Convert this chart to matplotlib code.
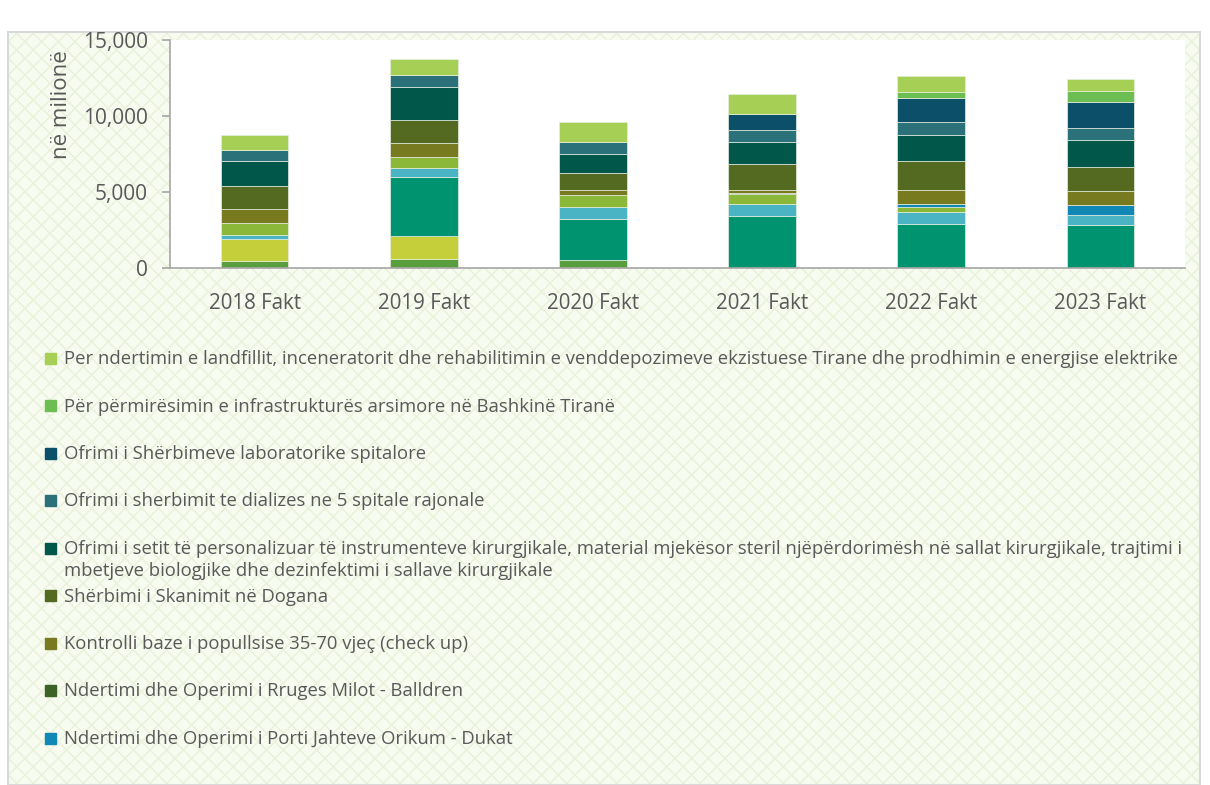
import matplotlib
matplotlib.use("Agg")
import matplotlib.pyplot as plt
from matplotlib.patches import Rectangle
from matplotlib.ticker import FuncFormatter
import numpy as np

plt.rcParams['font.family'] = ['Open Sans', 'DejaVu Sans']

# Te dhenat (ne milione), nga poshte lart ne stive
vitet = ['2018 Fakt', '2019 Fakt', '2020 Fakt', '2021 Fakt', '2022 Fakt', '2023 Fakt']

seria_1 = [480, 565, 500, 0, 0, 0]
seria_2 = [1430, 1511, 0, 0, 0, 0]
seria_3 = [0, 3942, 2693, 3390, 2865, 2799]
seria_4 = [285, 552, 834, 815, 788, 657]
seria_5 = [770, 762, 789, 657, 355, 0]
porti = [0, 0, 0, 0, 197, 703]
milot = [0, 0, 0, 45, 0, 0]
kontrolli = [940, 881, 309, 235, 939, 900]
skanimi = [1490, 1511, 1136, 1690, 1886, 1577]
seti = [1625, 2207, 1268, 1485, 1748, 1774]
dializa = [725, 789, 769, 768, 834, 827]
laboratori = [0, 0, 0, 1052, 1557, 1689]
arsimi = [0, 0, 0, 0, 414, 743]
landfilli = [1005, 1011, 1294, 1294, 1051, 748]

seri = [seria_1, seria_2, seria_3, seria_4, seria_5, porti, milot, kontrolli,
        skanimi, seti, dializa, laboratori, arsimi, landfilli]
ngjyrat = ['#589e3c', '#c4cf3a', '#00936f', '#4bb4c4', '#8cb83a', '#1187b5',
           '#3b6325', '#787a20', '#536a20', '#00574a', '#2a717a', '#0b5068',
           '#6cbd52', '#a6cf55']
emrat = ['', '', '', '', '',
         'Ndertimi dhe Operimi i Porti Jahteve Orikum - Dukat',
         'Ndertimi dhe Operimi i Rruges Milot - Balldren',
         'Kontrolli baze i popullsise 35-70 vjeç (check up)',
         'Shërbimi i Skanimit në Dogana',
         'Ofrimi i setit të personalizuar të instrumenteve kirurgjikale, material mjekësor steril njëpërdorimësh në sallat kirurgjikale, trajtimi i\nmbetjeve biologjike dhe dezinfektimi i sallave kirurgjikale',
         'Ofrimi i sherbimit te dializes ne 5 spitale rajonale',
         'Ofrimi i Shërbimeve laboratorike spitalore',
         'Për përmirësimin e infrastrukturës arsimore në Bashkinë Tiranë',
         'Per ndertimin e landfillit, inceneratorit dhe rehabilitimin e venddepozimeve ekzistuese Tirane dhe prodhimin e energjise elektrike']

gri = '#595959'

fig = plt.figure(figsize=(12.1, 7.85), dpi=100)

# sfondi me model
fig.patches.append(Rectangle((8/1210, 0), 1192/1210, 753/785, transform=fig.transFigure,
                             facecolor='#f7fbf0', edgecolor='#e8f1da', linewidth=0,
                             hatch='xx', zorder=-3))
fig.patches.append(Rectangle((8/1210, 0), 1192/1210, 753/785, transform=fig.transFigure,
                             fill=False, edgecolor='#d9d9d9', linewidth=1.5, zorder=-2))

ax = fig.add_axes([170/1210, 1 - 268/785, 1015/1210, 228/785])
ax.set_facecolor('white')

x = np.arange(len(vitet))
poshte = np.zeros(len(vitet))
for vlerat, ngjyra in zip(seri, ngjyrat):
    ax.bar(x, vlerat, 0.4, bottom=poshte, color=ngjyra, edgecolor='#e6eee0', linewidth=0.5)
    poshte += np.array(vlerat)

ax.set_xlim(-0.5, len(vitet) - 0.5)
ax.set_ylim(0, 15000)
ax.set_yticks([0, 5000, 10000, 15000])
ax.yaxis.set_major_formatter(FuncFormatter(lambda v, p: f'{int(v):,}'))
ax.set_xticks(x)
ax.set_xticklabels(vitet)
for s in ['top', 'right']:
    ax.spines[s].set_visible(False)
for s in ['left', 'bottom']:
    ax.spines[s].set_color('#a6a6a6')
    ax.spines[s].set_linewidth(1.2)
ax.tick_params(axis='y', colors='#a6a6a6', labelcolor=gri, labelsize=15, length=6, width=1.2, pad=10)
ax.tick_params(axis='x', length=0, labelcolor=gri, labelsize=14.8, pad=18)
ax.set_ylabel('në milionë', fontsize=16, color=gri)
ax.yaxis.set_label_coords(-0.097, 0.715)

# legjenda (vetem 9 seritë e para nga lart)
y0 = 358
hapi = 47.5
for i, k in enumerate(range(len(seri) - 1, 4, -1)):
    yc = y0 + i * hapi
    fig.patches.append(Rectangle((45/1210, 1 - (yc + 5.5)/785), 11/1210, 11/785,
                                 transform=fig.transFigure, color=ngjyrat[k], zorder=3))
    fig.text(64/1210, 1 - (yc - 8)/785, emrat[k], fontsize=13.3, color=gri,
             va='top', ha='left', linespacing=1.3)

fig.savefig('out.png', dpi=100)
